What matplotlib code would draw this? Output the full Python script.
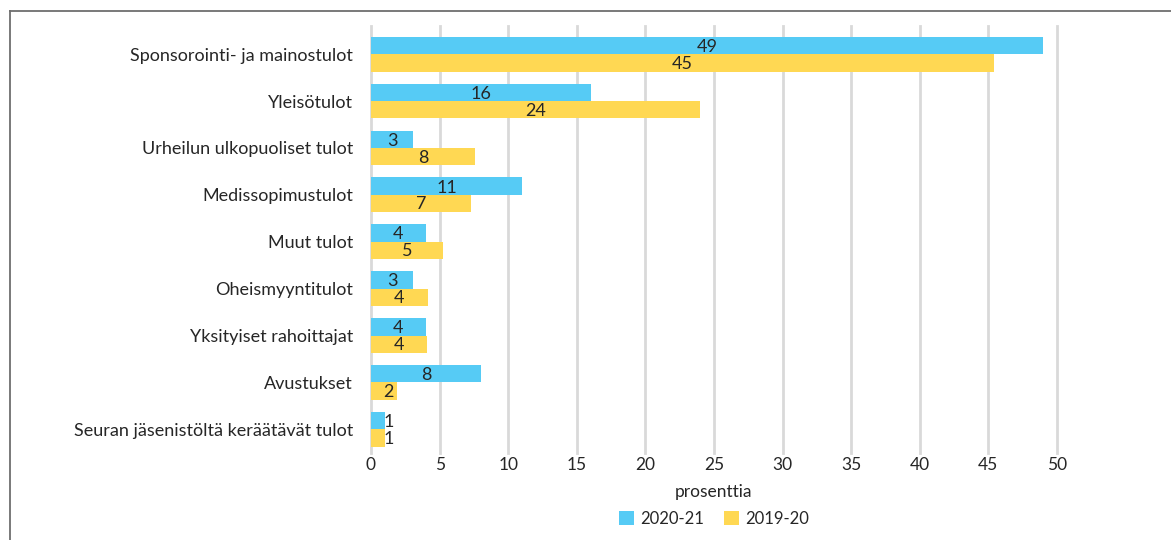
import matplotlib
matplotlib.use("Agg")
import matplotlib.pyplot as plt
from matplotlib.lines import Line2D
from matplotlib.patches import Patch

categories = [
    "Sponsorointi- ja mainostulot",
    "Yleisötulot",
    "Urheilun ulkopuoliset tulot",
    "Medissopimustulot",
    "Muut tulot",
    "Oheismyyntitulot",
    "Yksityiset rahoittajat",
    "Avustukset",
    "Seuran jäsenistöltä keräätävät tulot",
]
vals_2021 = [49.0, 16.0, 3.06, 11.0, 4.0, 3.06, 4.0, 8.0, 1.02]
vals_1920 = [45.4, 24.0, 7.58, 7.29, 5.25, 4.15, 4.08, 1.9, 1.02]
series_names = ["2020-21", "2019-20"]
xticks = [0, 5, 10, 15, 20, 25, 30, 35, 40, 45, 50]
xlabel = "prosenttia"

BLUE = "#56CBF5"
YELLOW = "#FFD853"
GRID = "#D9D9D9"
TXT = "#262626"
FONT = ["Lato", "DejaVu Sans"]
plt.rcParams["font.family"] = FONT

W, H = 1171, 540
fig = plt.figure(figsize=(W / 100, H / 100), dpi=100)
left, right = 371 / W, 1057 / W
top, bottom = 1 - 25.7 / H, 1 - 452.8 / H
ax = fig.add_axes([left, bottom, right - left, top - bottom])

n = len(categories)
pos = list(range(n))
h = 0.37
ax.barh([p - h / 2 for p in pos], vals_2021, height=h, color=BLUE, zorder=3)
ax.barh([p + h / 2 for p in pos], vals_1920, height=h, color=YELLOW, zorder=3)

min_c = 1.3
for p, v in zip(pos, vals_2021):
    ax.text(max(v / 2, min_c), p - h / 2 + 0.03, f"{round(v)}", ha="center", va="center",
            fontsize=13, color=TXT, zorder=4)
for p, v in zip(pos, vals_1920):
    ax.text(max(v / 2, min_c), p + h / 2 + 0.02, f"{round(v)}", ha="center", va="center",
            fontsize=13, color=TXT, zorder=4)

ax.set_xlim(0, 50)
ax.set_ylim(n - 0.5, -0.5 - 5 / 46.9)
ax.set_xticks(xticks)
ax.set_xticklabels([str(t) for t in xticks], fontsize=12.5, color=TXT)
ax.set_yticks(pos)
ax.set_yticklabels(categories, fontsize=13, color=TXT)
ax.tick_params(axis="both", length=0)
ax.tick_params(axis="y", pad=13)
ax.tick_params(axis="x", pad=3)
for s in ax.spines.values():
    s.set_visible(False)
for t in xticks:
    ax.axvline(t, color=GRID, linewidth=2, zorder=0, clip_on=False)

ax.set_xlabel(xlabel, fontsize=12.5, color=TXT, labelpad=8)

handles = [Patch(facecolor=BLUE, edgecolor="none"), Patch(facecolor=YELLOW, edgecolor="none")]
fig.legend(handles, series_names, loc="center", bbox_to_anchor=(714 / W, 1 - 519 / H),
           ncol=2, frameon=False, fontsize=12, handlelength=0.9, handleheight=0.9,
           handletextpad=0.35, columnspacing=1.2, labelcolor=TXT)

# outer border (left and top visible)
fig.add_artist(Line2D([10 / W, 10 / W], [0, 1 - 11 / H], transform=fig.transFigure,
                      color="#6E6E6E", linewidth=1.3))
fig.add_artist(Line2D([10 / W, 1], [1 - 11 / H, 1 - 11 / H], transform=fig.transFigure,
                      color="#6E6E6E", linewidth=1.3))

fig.savefig("out.png", dpi=100)
